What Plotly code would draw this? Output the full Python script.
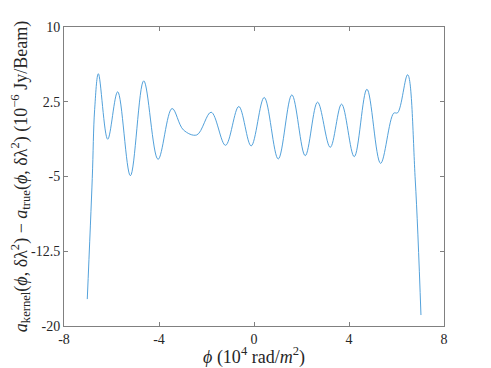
import plotly.graph_objects as go

# curve (phi in 1e4 rad/m^2, residual in 1e-6 Jy/Beam)
phi = [-7.02, -6.81, -6.71, -6.553, -6.16, -5.74, -5.205, -4.643, -4.04,
       -3.45, -2.97, -2.41, -1.805, -1.20, -0.64, -0.12, 0.43, 1.02, 1.594,
       2.156, 2.676, 3.21, 3.687, 4.22, 4.755, 5.33, 5.88, 6.05, 6.468,
       6.79, 7.03]
resid = [-17.3, -5.2, 1.7, 5.31, -1.26, 3.50, -4.92, 4.60, -3.28,
         1.82, -0.33, -0.83, 1.45, -1.87, 2.02, -1.93, 2.93, -3.24, 3.19,
         -2.91, 2.46, -2.07, 2.26, -3.01, 3.76, -3.68, 1.35, 1.40, 5.21,
         -5.35, -18.9]

x_ticks = [-8, -4, 0, 4, 8]
x_labels = ["-8", "-4", "0", "4", "8"]
y_ticks = [-20, -12.5, -5, 2.5, 10]
y_labels = ["-20", "-12.5", "-5", "2.5", "10"]

fig = go.Figure(go.Scatter(
    x=phi, y=resid, mode="lines",
    line=dict(color="#3f96d6", width=0.9, shape="spline", smoothing=1.0),
    showlegend=False,
))

axis_common = dict(
    showline=True, linecolor="#808080", linewidth=1, mirror="allticks",
    ticks="inside", ticklen=4, tickcolor="#808080", showgrid=False,
    zeroline=False, automargin=False,
    tickfont=dict(family="Liberation Serif", size=14, color="#262626"),
)

fig.update_xaxes(
    range=[-8, 8], tickvals=x_ticks, ticktext=x_labels, **axis_common,
    title=dict(text="<i>ϕ</i> (10<sup>4</sup> rad/<i>m</i><sup>2</sup>)",
               font=dict(family="Liberation Serif", size=18, color="#262626"),
               standoff=0),
)
fig.update_yaxes(
    range=[-20, 10], tickvals=y_ticks, ticktext=y_labels, **axis_common,
    title=dict(text="<i>a</i><sub>kernel</sub>(<i>ϕ</i>, δλ<sup>2</sup>) − "
                    "<i>a</i><sub>true</sub>(<i>ϕ</i>, δλ<sup>2</sup>) "
                    "(10<sup>−6</sup> Jy/Beam)",
               font=dict(family="Liberation Serif", size=18, color="#262626"),
               standoff=2),
)

# page body keeps an 8px margin, so the figure is drawn 8px smaller
fig.update_layout(
    width=483, height=360,
    margin=dict(l=56, r=47, t=19, b=42),
    plot_bgcolor="white", paper_bgcolor="white",
)

fig.write_html("out.html")
